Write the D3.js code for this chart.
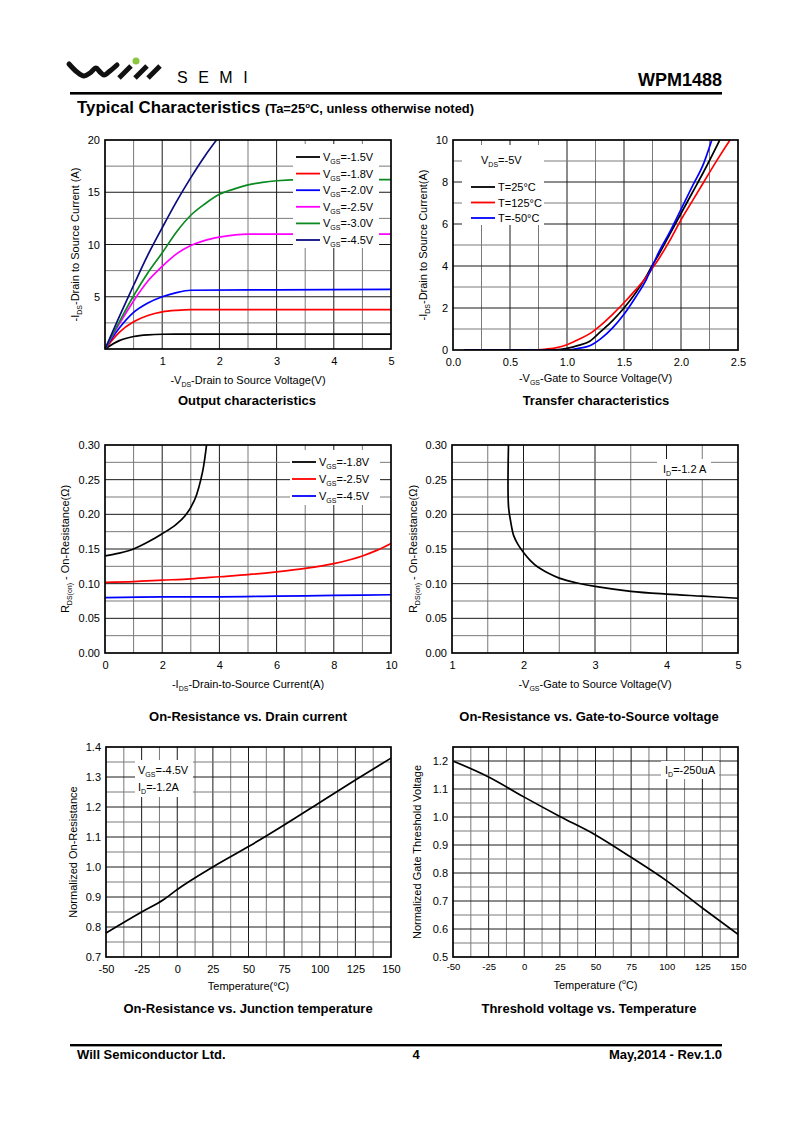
<!DOCTYPE html>
<html>
<head>
<meta charset="utf-8">
<script src="https://cdn.jsdelivr.net/npm/d3@7"></script>
<style>
  body { margin: 0; background: #fff; }
  svg { display: block; }
  text { font-family: "Liberation Sans", Arial, sans-serif; fill: #000; }
  .narrow { font-family: "Liberation Sans Narrow", "Liberation Sans", Arial, sans-serif; }
</style>
</head>
<body>
<svg id="page" width="800" height="1131"></svg>
<script>
// ---- output characteristics: -VDS (V) vs -IDS (A)
const outLegend = ["V_{GS}=-1.5V", "V_{GS}=-1.8V", "V_{GS}=-2.0V", "V_{GS}=-2.5V", "V_{GS}=-3.0V", "V_{GS}=-4.5V"];
const outVgs15 = [[0,0],[0.25,0.8],[0.5,1.2],[0.75,1.36],[1,1.41],[1.5,1.42],[5,1.43]];
const outVgs18 = [[0,0],[0.25,1.6],[0.5,2.6],[0.75,3.2],[1,3.55],[1.25,3.7],[1.5,3.76],[5,3.77]];
const outVgs20 = [[0,0],[0.25,2.0],[0.5,3.5],[0.75,4.4],[1,5.0],[1.25,5.4],[1.5,5.62],[3,5.66],[5,5.7]];
const outVgs25 = [[0,0],[0.25,2.4],[0.5,4.6],[0.75,6.5],[1,7.9],[1.25,9.1],[1.5,9.9],[1.75,10.4],[2,10.7],[2.5,11.0],[5,11.0]];
const outVgs30 = [[0,0],[0.25,2.6],[0.5,5.1],[0.75,7.3],[1,9.2],[1.25,11.2],[1.5,12.8],[1.75,13.9],[2,14.8],[2.25,15.3],[2.5,15.7],[2.75,15.95],[3,16.1],[3.5,16.2],[5,16.2]];
const outVgs45 = [[0,0],[0.25,3.1],[0.5,6.1],[0.75,9.0],[1,11.6],[1.25,14.1],[1.5,16.4],[1.75,18.5],[1.95,20]];
const outXTicks = [1, 2, 3, 4, 5];
const outYTicks = [5, 10, 15, 20];

// ---- transfer characteristics: -VGS (V) vs -IDS (A)
const trLegend = ["T=25°C", "T=125°C", "T=-50°C"];
const tr25 = [[0.1,0],[0.8,0],[0.9,0.01],[1.0,0.08],[1.1,0.22],[1.2,0.42],[1.3,0.9],[1.4,1.4],[1.5,2.0],[1.6,2.7],[1.7,3.55],[1.75,4.05],[1.8,4.5],[1.9,5.5],[2.0,6.5],[2.1,7.5],[2.2,8.5],[2.34,10]];
const tr125 = [[0.1,0],[0.7,0],[0.8,0.03],[0.9,0.1],[1.0,0.25],[1.1,0.5],[1.2,0.78],[1.3,1.2],[1.4,1.7],[1.5,2.25],[1.6,2.85],[1.7,3.5],[1.75,3.9],[1.8,4.3],[1.9,5.2],[2.0,6.2],[2.1,7.1],[2.2,8.0],[2.3,8.9],[2.43,10]];
const trM50 = [[0.1,0],[1.0,0],[1.1,0.08],[1.2,0.2],[1.3,0.55],[1.4,1.05],[1.5,1.7],[1.6,2.5],[1.7,3.4],[1.75,4.0],[1.8,4.6],[1.9,5.6],[2.0,6.7],[2.1,7.8],[2.2,8.9],[2.27,10]];
const trXTicks = [0, 0.5, 1.0, 1.5, 2.0, 2.5];
const trYTicks = [0, 2, 4, 6, 8, 10];

// ---- on-resistance vs drain current
const ridLegend = ["V_{GS}=-1.8V", "V_{GS}=-2.5V", "V_{GS}=-4.5V"];
const rid18 = [[0,0.14],[0.5,0.144],[1,0.15],[1.5,0.16],[2,0.172],[2.5,0.186],[2.8,0.198],[3,0.21],[3.2,0.228],[3.35,0.25],[3.45,0.27],[3.52,0.29],[3.55,0.30]];
const rid25 = [[0,0.102],[1,0.103],[2,0.105],[3,0.107],[4,0.110],[5,0.113],[6,0.117],[7,0.122],[8,0.129],[9,0.140],[9.5,0.148],[10,0.158]];
const rid45 = [[0,0.080],[2,0.081],[4,0.081],[6,0.082],[8,0.083],[10,0.084]];
const ridXTicks = [0, 2, 4, 6, 8, 10];
const rYTicks = [0, 0.05, 0.10, 0.15, 0.20, 0.25, 0.30];

// ---- on-resistance vs gate voltage
const rvgCurve = [[1.79,0.30],[1.79,0.212],[1.82,0.19],[1.86,0.17],[1.92,0.157],[2.0,0.145],[2.1,0.133],[2.2,0.124],[2.35,0.115],[2.5,0.108],[2.75,0.101],[3,0.096],[3.5,0.089],[4,0.085],[4.5,0.082],[5,0.079]];
const rvgXTicks = [1, 2, 3, 4, 5];

// ---- normalized on-resistance vs temperature
const rtCurve = [[-50,0.78],[-25,0.85],[-10,0.89],[0,0.925],[25,1.0],[50,1.068],[75,1.14],[100,1.215],[125,1.29],[150,1.363]];
const tempTicks = [-50, -25, 0, 25, 50, 75, 100, 125, 150];
const rtYTicks = [0.7, 0.8, 0.9, 1.0, 1.1, 1.2, 1.3, 1.4];

// ---- normalized threshold voltage vs temperature
const vthCurve = [[-50,1.2],[-25,1.143],[0,1.071],[25,1.002],[50,0.936],[75,0.856],[100,0.772],[125,0.675],[150,0.581]];
const vthYTicks = [0.5, 0.6, 0.7, 0.8, 0.9, 1.0, 1.1, 1.2];

const svg = d3.select("#page");

// plain hyphen minus, like the datasheet
const fmt = spec => { const f = d3.format(spec); return d => f(d).replace("\u2212", "-"); };

// text with _{sub} and ^{sup} pieces
function rich(t, str, small) {
  let shift = 0;
  str.split(/(_\{[^}]*\}|\^\{[^}]*\})/).forEach(p => {
    if (!p) return;
    let target = 0, s = p;
    if (p.startsWith("_{")) { target = 3; s = p.slice(2, -1); }
    else if (p.startsWith("^{")) { target = -5; s = p.slice(2, -1); }
    const ts = t.append("tspan").attr("dy", target - shift).text(s);
    if (target !== 0) ts.attr("font-size", small);
    shift = target;
  });
  return t;
}

let clipId = 0;
function chart(o) {
  const x = d3.scaleLinear().domain(o.xDomain).range([o.left, o.right]);
  const y = d3.scaleLinear().domain(o.yDomain).range([o.bottom, o.top]);
  const g = svg.append("g");

  const nx = Math.round((o.xDomain[1] - o.xDomain[0]) / o.xStep);
  const ny = Math.round((o.yDomain[1] - o.yDomain[0]) / o.yStep);
  const isMajor = (v, ticks) => ticks.some(t => Math.abs(t - v) < 1e-6);
  const xs = d3.range(1, nx).map(i => o.xDomain[0] + i * o.xStep);
  const ys = d3.range(1, ny).map(i => o.yDomain[0] + i * o.yStep);

  g.append("g").selectAll("line").data(xs).join("line")
    .attr("x1", d => x(d)).attr("x2", d => x(d))
    .attr("y1", o.top).attr("y2", o.bottom)
    .attr("stroke", d => isMajor(d, o.xTicks) ? "#1a1a1a" : "#7a7a7a")
    .attr("stroke-width", 1);
  g.append("g").selectAll("line").data(ys).join("line")
    .attr("y1", d => y(d)).attr("y2", d => y(d))
    .attr("x1", o.left).attr("x2", o.right)
    .attr("stroke", d => isMajor(d, o.yTicks) ? "#1a1a1a" : "#7a7a7a")
    .attr("stroke-width", 1);

  // tick labels
  const ax = g.append("g").attr("transform", `translate(0,${o.bottom})`)
    .call(d3.axisBottom(x).tickValues(o.xTicks).tickFormat(fmt(o.xFmt || "")).tickSize(0).tickPadding(o.xPad || 8));
  ax.select(".domain").remove();
  ax.selectAll("text").attr("font-size", o.xFont || 11).attr("font-family", null);
  const ay = g.append("g").attr("transform", `translate(${o.left},0)`)
    .call(d3.axisLeft(y).tickValues(o.yTicks).tickFormat(fmt(o.yFmt || "")).tickSize(0).tickPadding(5));
  ay.select(".domain").remove();
  ay.selectAll("text").attr("font-size", 11).attr("font-family", null);

  // curves
  const id = "clip" + (clipId++);
  svg.append("clipPath").attr("id", id).append("rect")
    .attr("x", o.left).attr("y", o.top).attr("width", o.right - o.left).attr("height", o.bottom - o.top);
  const line = d3.line().x(d => x(d[0])).y(d => y(d[1])).curve(o.curve || d3.curveMonotoneX);
  g.append("g").attr("clip-path", `url(#${id})`).selectAll("path").data(o.series).join("path")
    .attr("d", d => line(d.data))
    .attr("fill", "none")
    .attr("stroke", d => d.color)
    .attr("stroke-width", 1.7);

  // legend / note box
  if (o.box) {
    g.append("rect").attr("x", o.box[0]).attr("y", o.box[1])
      .attr("width", o.box[2]).attr("height", o.box[3]).attr("fill", "#fff");
  }
  if (o.legend) {
    const L = o.legend;
    o.series.forEach((s, i) => {
      const yy = L.y + i * L.dy;
      g.append("line").attr("x1", L.x).attr("x2", L.x + 24).attr("y1", yy).attr("y2", yy)
        .attr("stroke", s.color).attr("stroke-width", 1.8);
      rich(g.append("text").attr("x", L.x + 27).attr("y", yy + 4).attr("font-size", 11), s.label, 7);
    });
  }
  (o.notes || []).forEach(n => {
    rich(g.append("text").attr("x", n[0]).attr("y", n[1]).attr("font-size", 11), n[2], 7);
  });

  g.append("rect").attr("x", o.left).attr("y", o.top)
    .attr("width", o.right - o.left).attr("height", o.bottom - o.top)
    .attr("fill", "none").attr("stroke", "#000").attr("stroke-width", 1.7);

  // axis titles and chart title
  rich(g.append("text").attr("x", (o.left + o.right) / 2).attr("y", o.xLabelY)
    .attr("text-anchor", "middle").attr("font-size", 11), o.xLabel, 7);
  const cy = (o.top + o.bottom) / 2;
  rich(g.append("text").attr("transform", `translate(${o.yLabelX},${cy}) rotate(-90)`)
    .attr("text-anchor", "middle").attr("font-size", 11), o.yLabel, 7);
  g.append("text").attr("x", o.titleX).attr("y", o.titleY).attr("text-anchor", "middle")
    .attr("font-size", 13).attr("font-weight", "bold").text(o.title);
}

// ---------- page header ----------
const logo = svg.append("g");
logo.append("path")
  .attr("d", d3.line().curve(d3.curveCatmullRom)([[69,64],[77,72],[84,76],[90,73],[96,68],[100,72],[104,75],[110,71],[117,65]]))
  .attr("fill", "none").attr("stroke", "#111").attr("stroke-width", 5).attr("stroke-linecap", "round");
[[119,78,131,66],[135,78,147,66],[148,78,160,66]].forEach(s => {
  logo.append("line").attr("x1", s[0]).attr("y1", s[1]).attr("x2", s[2]).attr("y2", s[3])
    .attr("stroke", "#111").attr("stroke-width", 5);
});
logo.append("circle").attr("cx", 136).attr("cy", 61).attr("r", 3.5).attr("fill", "#8cc63f");
svg.append("text").attr("x", 177).attr("y", 83).attr("font-size", 16).attr("letter-spacing", 10.5).text("SEMI");
svg.append("text").attr("class", "narrow").attr("x", 722).attr("y", 86).attr("text-anchor", "end")
  .attr("font-size", 18).attr("font-weight", "bold").text("WPM1488");
svg.append("rect").attr("x", 70).attr("y", 92).attr("width", 652).attr("height", 2.6).attr("fill", "#000");
const head = svg.append("text").attr("class", "narrow").attr("x", 77).attr("y", 113).attr("font-weight", "bold")
  .attr("textLength", 397).attr("lengthAdjust", "spacingAndGlyphs");
head.append("tspan").attr("font-size", 17).text("Typical Characteristics ");
rich(head.append("tspan").attr("font-size", 13), "(Ta=25^{o}C, unless otherwise noted)", 8);

// ---------- charts ----------
chart({
  left: 105, right: 391, top: 140, bottom: 349,
  xDomain: [0, 5], yDomain: [0, 20], xStep: 0.5, yStep: 2.5,
  xTicks: outXTicks, yTicks: outYTicks,
  series: [
    { data: outVgs15, color: "#000", label: outLegend[0] },
    { data: outVgs18, color: "#f00", label: outLegend[1] },
    { data: outVgs20, color: "#00f", label: outLegend[2] },
    { data: outVgs25, color: "#f0f", label: outLegend[3] },
    { data: outVgs30, color: "#0a8a20", label: outLegend[4] },
    { data: outVgs45, color: "#0b0b80", label: outLegend[5] }
  ],
  box: [293, 144, 86, 104],
  legend: { x: 296, y: 157, dy: 16.6 },
  xLabel: "-V_{DS}-Drain to Source Voltage(V)", xLabelY: 384,
  yLabel: "-I_{DS}-Drain to Source Current (A)", yLabelX: 79,
  title: "Output characteristics", titleX: 247, titleY: 405
});

chart({
  left: 453, right: 738, top: 140, bottom: 350,
  xDomain: [0, 2.5], yDomain: [0, 10], xStep: 0.25, yStep: 1,
  xTicks: trXTicks, yTicks: trYTicks, xFmt: ".1f",
  series: [
    { data: tr25, color: "#000", label: trLegend[0] },
    { data: tr125, color: "#f00", label: trLegend[1] },
    { data: trM50, color: "#00f", label: trLegend[2] }
  ],
  box: [462, 145, 82, 80],
  legend: { x: 471, y: 187, dy: 15.5 },
  notes: [[481, 164, "V_{DS}=-5V"]],
  xLabel: "-V_{GS}-Gate to Source Voltage(V)", xLabelY: 382,
  yLabel: "-I_{DS}-Drain to Source Current(A)", yLabelX: 427,
  title: "Transfer characteristics", titleX: 596, titleY: 405
});

chart({
  left: 105, right: 391, top: 445, bottom: 653,
  xDomain: [0, 10], yDomain: [0, 0.30], xStep: 1, yStep: 0.025,
  xTicks: ridXTicks, yTicks: rYTicks, yFmt: ".2f",
  series: [
    { data: rid18, color: "#000", label: ridLegend[0] },
    { data: rid25, color: "#f00", label: ridLegend[1] },
    { data: rid45, color: "#00f", label: ridLegend[2] }
  ],
  box: [290, 450, 90, 55],
  legend: { x: 292, y: 462, dy: 17 },
  xLabel: "-I_{DS}-Drain-to-Source Current(A)", xLabelY: 688,
  yLabel: "R_{DS(on)} - On-Resistance(Ω)", yLabelX: 69,
  title: "On-Resistance vs. Drain current", titleX: 248, titleY: 721
});

chart({
  left: 452, right: 738, top: 445, bottom: 653,
  xDomain: [1, 5], yDomain: [0, 0.30], xStep: 0.5, yStep: 0.025,
  xTicks: rvgXTicks, yTicks: rYTicks, yFmt: ".2f",
  curve: d3.curveCatmullRom.alpha(0.5),
  series: [{ data: rvgCurve, color: "#000" }],
  box: [657, 459, 54, 20],
  notes: [[663, 473, "I_{D}=-1.2 A"]],
  xLabel: "-V_{GS}-Gate to Source Voltage(V)", xLabelY: 688,
  yLabel: "R_{DS(on)} - On-Resistance(Ω)", yLabelX: 417,
  title: "On-Resistance vs. Gate-to-Source voltage", titleX: 589, titleY: 721
});

chart({
  left: 106, right: 391, top: 747, bottom: 957,
  xDomain: [-50, 150], yDomain: [0.7, 1.4], xStep: 12.5, yStep: 0.05,
  xTicks: tempTicks, yTicks: rtYTicks, yFmt: ".1f",
  series: [{ data: rtCurve, color: "#000" }],
  box: [135, 760, 58, 37],
  notes: [[138, 774, "V_{GS}=-4.5V"], [138, 791, "I_{D}=-1.2A"]],
  xLabel: "Temperature(°C)", xLabelY: 990,
  yLabel: "Normalized On-Resistance", yLabelX: 77,
  title: "On-Resistance vs. Junction temperature", titleX: 248, titleY: 1013
});

chart({
  left: 453, right: 738, top: 747, bottom: 957,
  xDomain: [-50, 150], yDomain: [0.5, 1.25], xStep: 12.5, yStep: 0.05,
  xTicks: tempTicks, yTicks: vthYTicks, yFmt: ".1f",
  xFont: 9.5, xPad: 6,
  series: [{ data: vthCurve, color: "#000" }],
  box: [661, 761, 58, 18],
  notes: [[665, 774, "I_{D}=-250uA"]],
  xLabel: "Temperature (^{o}C)", xLabelY: 989,
  yLabel: "Normalized Gate Threshold Voltage", yLabelX: 421,
  title: "Threshold voltage vs. Temperature", titleX: 589, titleY: 1013
});

// ---------- footer ----------
svg.append("rect").attr("x", 70).attr("y", 1044).attr("width", 652).attr("height", 2.4).attr("fill", "#000");
const foot = svg.append("g").attr("font-weight", "bold").attr("font-size", 13);
foot.append("text").attr("class", "narrow").attr("x", 77).attr("y", 1059).text("Will Semiconductor Ltd.");
foot.append("text").attr("class", "narrow").attr("x", 416).attr("y", 1059).attr("text-anchor", "middle").text("4");
foot.append("text").attr("class", "narrow").attr("x", 722).attr("y", 1059).attr("text-anchor", "end").text("May,2014 - Rev.1.0");
</script>
</body>
</html>
